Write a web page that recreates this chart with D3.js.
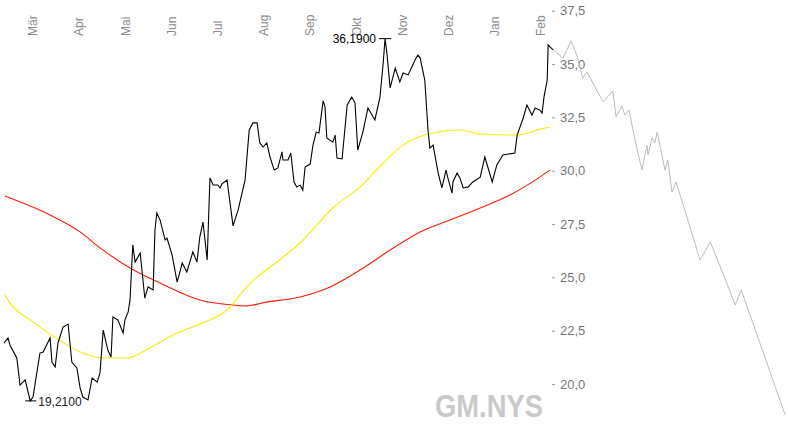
<!DOCTYPE html>
<html>
<head>
<meta charset="utf-8">
<script src="https://cdn.jsdelivr.net/npm/d3@7"></script>
<style>
    body { margin: 0; background: #fff; }
    .price { fill: none; stroke: #000; stroke-width: 1.1; }
    .forecast { fill: none; stroke: #bdbdbd; stroke-width: 1; }
    .ma38 { fill: none; stroke: #f5ec00; stroke-width: 1.1; }
    .ma200 { fill: none; stroke: #ff1a00; stroke-width: 1.1; }
    text { font-family: Arial, "Liberation Sans", sans-serif; }
</style>
</head>
<body>
<script>
// month labels (t = month number, Mar = 3, next Feb = 14)
var months = ["Mär", "Apr", "Mai", "Jun", "Jul", "Aug", "Sep", "Okt", "Nov", "Dez", "Jan", "Feb"];
var monthT = [3, 4, 5, 6, 7, 8, 9, 10, 11, 12, 13, 14];
var yTicks = [20, 22.5, 25, 27.5, 30, 32.5, 35, 37.5];

// closing prices [t, price]
var priceT = [2.37, 2.46, 2.50, 2.65, 2.72, 2.83, 2.94, 3.00, 3.15, 3.22, 3.37, 3.41, 3.48, 3.54, 3.65, 3.76, 3.84, 3.95,
    4.02, 4.08, 4.19, 4.28, 4.39, 4.45, 4.52, 4.62, 4.69, 4.73, 4.84, 4.95, 4.99, 5.06, 5.10, 5.16, 5.21, 5.32, 5.42, 5.49,
    5.60, 5.64, 5.68, 5.75, 5.86, 5.90, 6.01, 6.12, 6.23, 6.33, 6.46, 6.55, 6.61, 6.68, 6.77, 6.83, 6.90, 7.00, 7.05, 7.09,
    7.20, 7.33, 7.44, 7.59, 7.68, 7.76, 7.85, 7.91, 7.98, 8.06, 8.13, 8.22, 8.30, 8.39, 8.41, 8.52, 8.58, 8.65, 8.71, 8.78,
    8.84, 8.89, 9.00, 9.06, 9.13, 9.19, 9.28, 9.32, 9.36, 9.49, 9.54, 9.58, 9.69, 9.80, 9.90, 9.97, 10.03, 10.14, 10.25,
    10.40, 10.51, 10.58, 10.62, 10.66, 10.73, 10.84, 10.94, 11.01, 11.12, 11.27, 11.33, 11.38, 11.48, 11.55, 11.59, 11.66,
    11.77, 11.85, 11.94, 11.98, 12.07, 12.09, 12.18, 12.24, 12.31, 12.42, 12.52, 12.68, 12.78, 12.94, 13.04, 13.17, 13.43,
    13.48, 13.61, 13.69, 13.80, 13.87, 13.97, 14.02, 14.06, 14.13, 14.15, 14.19, 14.26];
var priceV = [21.92, 22.16, 21.83, 21.22, 19.95, 20.19, 19.21, 19.39, 21.45, 21.50, 22.16, 21.03, 20.80, 21.92, 22.67, 22.81, 21.03, 20.75,
    19.81, 19.39, 19.25, 20.28, 20.09, 20.52, 22.53, 21.59, 21.27, 23.14, 23.00, 22.39, 23.00, 23.38, 23.94, 26.52, 25.72, 26.14, 24.03, 24.55,
    24.41, 27.22, 28.02, 27.69, 26.75, 26.84, 26.05, 24.78, 25.67, 25.25, 26.19, 25.72, 26.89, 27.59, 25.81, 29.66, 29.33, 29.33, 29.19, 29.38,
    29.56, 27.41, 28.16, 29.56, 31.91, 32.24, 32.24, 31.30, 31.11, 31.30, 30.64, 30.03, 30.13, 30.88, 30.50, 30.50, 30.83, 29.47, 29.24, 29.33,
    29.09, 30.17, 30.31, 31.20, 31.81, 31.77, 33.27, 32.99, 31.53, 31.34, 31.67, 30.59, 30.55, 33.08, 33.45, 33.17, 30.97, 31.81, 32.94,
    32.38, 33.45, 35.05, 36.19, 35.52, 33.88, 34.81, 34.16, 34.58, 34.49, 35.19, 35.42, 35.28, 34.25, 31.91, 31.06, 31.20,
    29.89, 29.19, 30.03, 29.66, 28.95, 29.47, 29.89, 29.66, 29.19, 29.24, 29.47, 29.70, 30.64, 29.47, 30.27, 30.74, 30.83,
    31.67, 32.47, 33.08, 32.61, 32.94, 32.84, 32.70, 33.45, 34.25, 35.89, 35.80, 35.66];

// projection (grey)
var foreT = [14.26, 14.47, 14.65, 14.77, 14.90, 14.99, 15.34, 15.55, 15.62, 15.75, 15.81, 15.90, 16.03, 16.18, 16.29, 16.31,
    16.40, 16.46, 16.51, 16.68, 16.74, 16.83, 16.92, 17.44, 17.66, 17.99, 18.20, 18.33, 19.28];
var foreV = [35.66, 35.28, 36.08, 35.42, 34.34, 34.63, 33.22, 33.74, 32.52, 33.03, 32.61, 32.84, 31.44, 30.03, 31.20, 30.74,
    31.53, 31.30, 31.81, 30.03, 30.50, 29.00, 29.47, 25.81, 26.66, 24.88, 23.70, 24.41, 18.55];

// moving averages
var ma200T = [2.39, 3.37, 4.02, 4.45, 5.10, 5.75, 6.61, 7.33, 7.59, 8.06, 8.78, 9.43, 10.08, 10.73, 11.38, 12.03, 12.68, 13.32, 13.97, 14.19];
var ma200V = [28.81, 27.92, 27.13, 26.38, 25.44, 24.73, 23.94, 23.70, 23.66, 23.84, 24.08, 24.55, 25.34, 26.28, 27.13, 27.69, 28.25, 28.86, 29.70, 30.03];
var ma38T = [2.39, 2.50, 3.00, 3.63, 4.08, 4.52, 5.03, 5.53, 6.03, 6.61, 7.20, 7.70, 8.28, 8.78, 9.49, 10.08, 10.58, 11.01, 11.48, 12.24, 12.68, 13.48, 13.97, 14.19];
var ma38V = [24.17, 23.80, 22.91, 21.97, 21.45, 21.22, 21.22, 21.69, 22.30, 22.81, 23.47, 24.73, 25.72, 26.61, 28.25, 29.24, 30.36, 31.20, 31.67, 31.91, 31.72, 31.67, 31.95, 32.05];

var lowLabel = "19,2100", highLabel = "36,1900";

var width = 788, height = 426;

var svg = d3.select("body")
    .append("svg")
    .attr("width", width)
    .attr("height", height);

var x = d3.scaleLinear().domain([3, 14]).range([33, 541.2]);
var y = d3.scaleLinear().domain([20, 37.5]).range([384, 10.7]);

var fmt = d3.formatLocale({ decimal: ",", thousands: ".", grouping: [3], currency: ["", "€"] }).format(".1f");

function pairs(ts, vs) {
    return ts.map(function(t, i) { return [t, vs[i]]; });
}

var line = d3.line()
    .x(function(d) { return x(d[0]); })
    .y(function(d) { return y(d[1]); });

// right axis
var axis = svg.append("g")
    .attr("transform", "translate(552,0)")
    .call(d3.axisRight(y).tickValues(yTicks).tickFormat(fmt).tickSize(3).tickPadding(5));
axis.select(".domain").remove();
axis.selectAll("line").attr("stroke", "#999");
axis.selectAll("text")
    .attr("fill", "#777")
    .style("font-size", "13px")
    .style("font-family", "Arial, 'Liberation Sans', sans-serif");

// month labels at top, rotated
svg.selectAll(".month")
    .data(months)
    .enter()
    .append("text")
    .attr("class", "month")
    .attr("transform", function(d, i) { return "translate(" + x(monthT[i]) + ",36) rotate(-90)"; })
    .attr("dy", "0.35em")
    .attr("fill", "#8a8a8a")
    .style("font-size", "12px")
    .text(function(d) { return d; });

// watermark
svg.append("text")
    .attr("x", 435)
    .attr("y", 417)
    .attr("textLength", 108)
    .attr("lengthAdjust", "spacingAndGlyphs")
    .attr("fill", "#c9c9c9")
    .style("font-size", "31px")
    .style("font-weight", "bold")
    .text("GM.NYS");

svg.append("path").datum(pairs(ma200T, ma200V)).attr("class", "ma200").attr("d", line.curve(d3.curveMonotoneX));
svg.append("path").datum(pairs(ma38T, ma38V)).attr("class", "ma38").attr("d", line.curve(d3.curveMonotoneX));
line.curve(d3.curveLinear);
svg.append("path").datum(pairs(foreT, foreV)).attr("class", "forecast").attr("d", line);
svg.append("path").datum(pairs(priceT, priceV)).attr("class", "price").attr("d", line);

// high / low markers
var hiI = d3.maxIndex(priceV), loI = d3.minIndex(priceV);
var hx = x(priceT[hiI]), hy = y(priceV[hiI]);
var lx = x(priceT[loI]), ly = y(priceV[loI]);

svg.append("line").attr("x1", hx - 6).attr("x2", hx + 6).attr("y1", hy).attr("y2", hy).attr("stroke", "#000");
svg.append("text")
    .attr("x", hx - 9).attr("y", hy + 4)
    .attr("text-anchor", "end")
    .style("font-size", "12px")
    .text(highLabel);

svg.append("line").attr("x1", lx - 5).attr("x2", lx + 6).attr("y1", ly).attr("y2", ly).attr("stroke", "#000");
svg.append("text")
    .attr("x", lx + 8).attr("y", ly + 5)
    .attr("fill", "#222")
    .style("font-size", "12px")
    .text(lowLabel);
</script>
</body>
</html>
